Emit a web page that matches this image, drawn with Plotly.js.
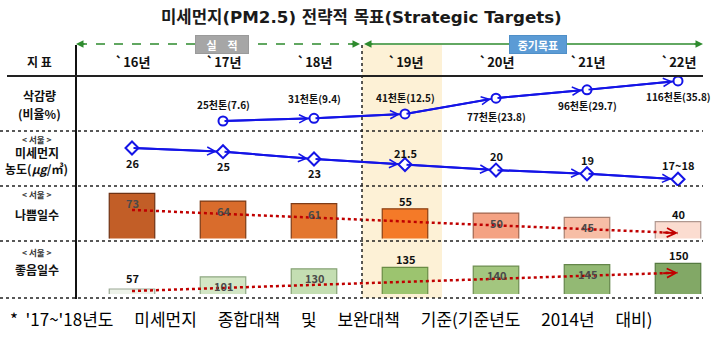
<!DOCTYPE html>
<html><head><meta charset="utf-8">
<script src="https://cdn.plot.ly/plotly-3.0.1.min.js"></script>
<style>html,body{margin:0;padding:0;background:#fff}</style>
</head><body><div id="chart" style="width:724px;height:346px"></div>
<script>
// ---------- data ----------
const years = ['`16년','`17년','`18년','`19년','`20년','`21년','`22년'];
const yearIdx = [0,1,2,3,4,5,6];
const reductionIdx = [1,2,3,4,5,6];
const reductionKt = [25,31,41,77,96,116];
const reductionPct = ['7.6','9.4','12.5','23.8','29.7','35.8'];
const pmConc = [26,25,23,21.5,20,19,17.5];
const pmConcLabels = ['26','25','23','21.5','20','19','17~18'];
const badDays = [73,64,61,55,50,45,40];
const goodDays = [57,101,130,135,140,145,150];
const trendIdx = [0,6];
const badTrend = [53.6,26.8];
const goodTrend = [49.8,116.1];

// ---------- styling helpers ----------
const W=724,H=346;
const X=p=>p/W, Y=p=>1-p/H;
const FONT='"Noto Sans CJK KR", "Noto Sans", sans-serif';
const TFONT='"DejaVu Sans", "Noto Sans CJK KR", sans-serif';
const BLUE='#1414E6', RED='#C00000';
const badColors=['#C25E27','#D96C2C','#E3762F','#F47A28','#F4A283','#F7BEA6','#FBDCD0'];
const badLines =['#6E3214','#7A3A16','#7E3C18','#8A3F12','#A0664F','#A88070','#B09890'];
const goodColors=['#EEF3EA','#D3E6C5','#C4DEB2','#9CC46F','#A3C67F','#93B974','#82A866'];
const goodLines =['#9AA894','#8FA883','#86A275','#6A8C45','#6F8E52','#64864A','#557A40'];

const traces=[
 {type:'scatter',x:reductionIdx,y:reductionKt,xaxis:'x',yaxis:'y',mode:'lines+markers',
  line:{color:BLUE,width:2},marker:{symbol:'circle',size:9,color:'#fff',line:{color:BLUE,width:2}},hoverinfo:'none'},
 {type:'scatter',x:yearIdx,y:pmConc,xaxis:'x',yaxis:'y2',mode:'lines+markers',
  line:{color:BLUE,width:2},marker:{symbol:'diamond',size:10,color:'#fff',line:{color:BLUE,width:2}},hoverinfo:'none'},
 {type:'bar',x:yearIdx,y:badDays,xaxis:'x',yaxis:'y3',width:0.5,
  marker:{color:badColors,line:{color:badLines,width:1.2}},hoverinfo:'none'},
 {type:'scatter',x:trendIdx,y:badTrend,xaxis:'x',yaxis:'y3',mode:'lines',
  line:{color:RED,width:2.5,dash:'dot'},hoverinfo:'none'},
 {type:'bar',x:yearIdx,y:goodDays,xaxis:'x',yaxis:'y4',width:0.5,
  marker:{color:goodColors,line:{color:goodLines,width:1.2}},hoverinfo:'none'},
 {type:'scatter',x:trendIdx,y:goodTrend,xaxis:'x',yaxis:'y4',mode:'lines',
  line:{color:RED,width:2.5,dash:'dot'},hoverinfo:'none'}
];

const ann=[];
function txt(text,x,y,size,opts){ann.push(Object.assign({text:text,x:x,y:y,xref:'paper',yref:'paper',showarrow:false,
  xanchor:'center',yanchor:'middle',font:{family:FONT,size:size,color:'#111'}},opts||{}));}

// title
txt('<b>미세먼지(PM2.5) 전략적 목표(Strategic Targets)</b>',X(361),Y(17),16.7,{font:{family:TFONT,size:16.7,color:'#1a1a1a'}});
// header row
txt('<b>지 표</b>',X(39),Y(62),12);
years.forEach((t,i)=>ann.push({text:'<b>'+t+'</b>',x:yearIdx[i],xref:'x',y:Y(62),yref:'paper',showarrow:false,
  xanchor:'center',yanchor:'middle',font:{family:FONT,size:13,color:'#111'}}));
// left column
const SUB={family:FONT,size:8.5,color:'#333'};
txt('<b>삭감량</b>',X(39),Y(96),12);
txt('<b>(비율%)</b>',X(39),Y(113.5),12);
txt('<b>&lt; 서울 &gt;</b>',X(37),Y(139.5),8.5,{font:SUB});
txt('<b>미세먼지</b>',X(37),Y(153),12);
txt('<b>농도(<i>μg</i>/㎥)</b>',X(36),Y(168),12);
txt('<b>&lt; 서울 &gt;</b>',X(37),Y(194),8.5,{font:SUB});
txt('<b>나쁨일수</b>',X(37),Y(214),12);
txt('<b>&lt; 서울 &gt;</b>',X(37),Y(252),8.5,{font:SUB});
txt('<b>좋음일수</b>',X(37),Y(269),12);
// top period boxes
txt('<b>실　적</b>',X(222),Y(44),11,{font:{family:FONT,size:11,color:'#fff'},bgcolor:'#A6A6A6',bordercolor:'#9A9A9A',width:50,height:15});
txt('<b>중기목표</b>',X(538),Y(44),11,{font:{family:FONT,size:11,color:'#fff'},bgcolor:'#5B9BD5',bordercolor:'#4F8FC8',width:54,height:15});
// arrowheads of period arrows
[[76,10],[360,-10],[364,10],[703,-10]].forEach(a=>ann.push({x:X(a[0]),y:Y(44),xref:'paper',yref:'paper',text:'',showarrow:true,
  ax:a[1],ay:0,arrowhead:2,arrowsize:1,arrowwidth:1.5,arrowcolor:'#2E8B2E'}));

// row1 labels + arrows
const r1shift=[17,20,16,-18,-16,-16];
reductionKt.forEach((v,i)=>{
  ann.push({text:'<b>'+v+'천톤('+reductionPct[i]+')</b>',x:reductionIdx[i],y:v,xref:'x',yref:'y',yshift:r1shift[i],showarrow:false,
    xanchor:'center',yanchor:'middle',font:{family:FONT,size:10,color:'#111'}});
  if(i>0) ann.push({text:'',x:reductionIdx[i],y:v,xref:'x',yref:'y',axref:'x',ayref:'y',ax:reductionIdx[i-1],ay:reductionKt[i-1],
    showarrow:true,arrowhead:5,arrowsize:0.8,arrowwidth:2,arrowcolor:BLUE,standoff:5});
});
// row2 labels + arrows
const r2shift=[-15,-14,-14,12,14,14,14];
pmConc.forEach((v,i)=>{
  ann.push({text:'<b>'+pmConcLabels[i]+'</b>',x:yearIdx[i],y:v,xref:'x',yref:'y2',yshift:r2shift[i],showarrow:false,
    xanchor:'center',yanchor:'middle',font:{family:FONT,size:11,color:'#111'}});
  if(i>0) ann.push({text:'',x:yearIdx[i],y:v,xref:'x',yref:'y2',axref:'x',ayref:'y2',ax:yearIdx[i-1],ay:pmConc[i-1],
    showarrow:true,arrowhead:5,arrowsize:0.8,arrowwidth:2,arrowcolor:BLUE,standoff:6});
});
// bar labels
const badInside=[true,true,true,false,true,true,false];
badDays.forEach((v,i)=>ann.push({text:'<b>'+v+'</b>',x:yearIdx[i],y:v,xref:'x',yref:'y3',yshift:badInside[i]?-10:8,showarrow:false,
  xanchor:'center',yanchor:'middle',font:{family:FONT,size:11,color:badInside[i]?'#4a4a4a':'#111'}}));
const goodInside=[false,true,true,false,true,true,false];
goodDays.forEach((v,i)=>ann.push({text:'<b>'+v+'</b>',x:yearIdx[i],y:v,xref:'x',yref:'y4',yshift:goodInside[i]?-9:(i===0?11:8),showarrow:false,
  xanchor:'center',yanchor:'middle',font:{family:FONT,size:11,color:goodInside[i]?'#4a4a4a':'#111'}}));
// trend arrowheads
function trendHead(tr,yref){const t=0.97;ann.push({text:'',x:trendIdx[1],y:tr[1],xref:'x',yref:yref,axref:'x',ayref:yref,
  ax:trendIdx[0]+(trendIdx[1]-trendIdx[0])*t,ay:tr[0]+(tr[1]-tr[0])*t,showarrow:true,arrowhead:5,arrowsize:0.9,arrowwidth:2,arrowcolor:RED,standoff:0});}
trendHead(badTrend,'y3');trendHead(goodTrend,'y4');
// footnote
const G='\u3000\u00A0';
txt("*\u00A0\u00A0'17~'18년도"+G+"미세먼지"+G+"종합대책"+G+"및"+G+"보완대책"+G+"기준(기준년도"+G+"2014년"+G+"대비)",
  X(8),Y(318),17,{xanchor:'left',font:{family:FONT,size:17,color:'#000'}});

const shapes=[
 {type:'rect',xref:'paper',yref:'paper',x0:X(362),x1:X(442),y0:Y(298),y1:Y(45),fillcolor:'#FDF1D6',line:{width:0},layer:'below'},
 {type:'line',xref:'paper',yref:'paper',x0:X(76),x1:X(76),y0:Y(45),y1:Y(299),line:{color:'#111',width:2}},
 {type:'line',xref:'paper',yref:'paper',x0:X(362),x1:X(362),y0:Y(45),y1:Y(298),line:{color:'#222',width:1.5,dash:'dot'}},
 {type:'line',xref:'paper',yref:'paper',x0:X(7),x1:X(703),y0:Y(76),y1:Y(76),line:{color:'#222',width:2}},
 {type:'line',xref:'paper',yref:'paper',x0:X(78),x1:X(358),y0:Y(44),y1:Y(44),line:{color:'#2E8B2E',width:1.5,dash:'dash'}},
 {type:'line',xref:'paper',yref:'paper',x0:X(366),x1:X(700),y0:Y(44),y1:Y(44),line:{color:'#2E8B2E',width:1.5}}
];
[131,186,241,298].forEach(p=>shapes.push({type:'line',xref:'paper',yref:'paper',x0:X(0),x1:X(703),y0:Y(p),y1:Y(p),
  line:{color:'#222',width:1.5,dash:'dot'}}));

const hidden={visible:false,fixedrange:true,showgrid:false,zeroline:false};
const layout={
 width:W,height:H,margin:{l:0,r:0,t:0,b:0},paper_bgcolor:'#fff',plot_bgcolor:'rgba(0,0,0,0)',
 showlegend:false,barmode:'overlay',
 xaxis:Object.assign({range:[-1.4505,6.5055],domain:[0,1],anchor:'y'},hidden),
 yaxis:Object.assign({domain:[Y(131),Y(76)],range:[2.27,127.3]},hidden),
 yaxis2:Object.assign({domain:[Y(186),Y(131)],range:[15.67,30.62]},hidden),
 yaxis3:Object.assign({domain:[Y(238.5),Y(186)],range:[20.44,81.49]},hidden),
 yaxis4:Object.assign({domain:[Y(294),Y(241)],range:[38.9,230.9]},hidden),
 annotations:ann,shapes:shapes
};
Plotly.newPlot('chart',traces,layout,{displayModeBar:false,staticPlot:true});
</script></body></html>
